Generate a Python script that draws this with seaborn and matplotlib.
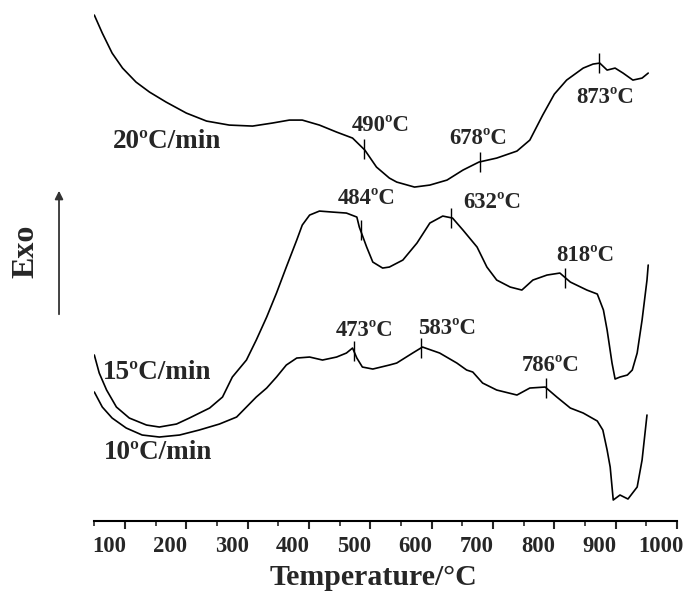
import numpy as np
import pandas as pd
import matplotlib.pyplot as plt
import matplotlib.transforms as mtransforms
import seaborn as sns

sns.set_style("white")
plt.rcParams['font.family'] = ['Liberation Serif', 'DejaVu Serif']
plt.rcParams['font.weight'] = 'bold'

# DTA curves, heat flow in arbitrary units (Exo up)
temp_20 = [50, 63, 79, 96, 118, 140, 167, 200, 233, 270, 308, 340, 368, 389, 417, 445,
           471, 491, 510, 531, 543, 572, 597, 625, 651, 677, 706, 739, 760, 781, 800,
           820, 847, 863, 874, 886, 899, 912, 928, 943, 953]
dta_20 = [506, 488, 468, 453, 439, 429, 419, 408, 400, 396, 395, 398, 401, 401, 396, 389,
          383, 371, 354, 343, 339, 334, 336, 341, 351, 359, 363, 370, 381, 406, 427,
          441, 453, 457, 458, 451, 453, 448, 441, 443, 448]

temp_15 = [50, 58, 70, 86, 107, 135, 156, 184, 205, 238, 259, 275, 298, 314, 331, 347,
           363, 380, 389, 401, 417, 438, 461, 478, 482, 494, 504, 520, 531, 553, 576, 597,
           618, 634, 651, 674, 690, 706, 728, 747, 765, 788, 809, 826, 853, 870, 880, 886,
           894, 899, 907, 919, 927, 935, 943, 951, 953]
dta_15 = [166, 148, 131, 114, 103, 96, 94, 97, 103, 113, 124, 144, 161, 181, 204, 228,
          254, 281, 296, 306, 310, 309, 308, 304, 294, 274, 259, 253, 254, 261, 278, 298,
          305, 303, 291, 274, 254, 241, 234, 231, 241, 246, 248, 239, 231, 227, 211, 191,
          158, 142, 144, 146, 151, 168, 201, 241, 256]

temp_10 = [50, 63, 79, 102, 128, 156, 189, 221, 254, 282, 298, 314, 331, 347, 363, 380,
           401, 422, 445, 461, 471, 478, 487, 504, 531, 543, 569, 585, 613, 641, 657, 667,
           683, 706, 739, 760, 785, 804, 826, 847, 870, 879, 886, 891, 896, 907, 920, 935,
           943, 951]
dta_10 = [129, 114, 103, 93, 86, 84, 86, 91, 97, 104, 114, 124, 133, 144, 156, 163,
          164, 161, 164, 168, 173, 163, 154, 152, 156, 158, 168, 174, 168, 158, 151, 149,
          138, 131, 126, 133, 134, 124, 113, 108, 100, 91, 71, 54, 21, 26, 22, 34,
          61, 106]

peaks_20 = [490, 678, 873]
peaks_15 = [484, 632, 818]
peaks_10 = [473, 583, 786]

rate_labels = ['20ºC/min', '15ºC/min', '10ºC/min']
x_ticks = [100, 200, 300, 400, 500, 600, 700, 800, 900, 1000]

frames = []
for lab, t, d in zip(rate_labels, [temp_20, temp_15, temp_10], [dta_20, dta_15, dta_10]):
    frames.append(pd.DataFrame({'T': t, 'DTA': d, 'rate': lab}))
df = pd.concat(frames, ignore_index=True)

fig = plt.figure(figsize=(6.91, 5.93), dpi=100)
ax = fig.add_axes([0.1365, 0.1214, 0.8433, 0.870])

sns.lineplot(data=df, x='T', y='DTA', units='rate', estimator=None, color='black',
             lw=1.2, ax=ax, legend=False)

# peak markers
for lab, pk in zip(rate_labels, [peaks_20, peaks_15, peaks_10]):
    sub = df[df['rate'] == lab]
    h = np.interp(pk, sub['T'], sub['DTA'])
    ax.vlines(pk, h - 10, h + 10, color='black', lw=1.0)

# annotations
lab_fs = 16.4
ax.text(169, 380, rate_labels[0], fontsize=19.5, ha='center', va='center')
ax.text(153, 149, rate_labels[1], fontsize=19.5, ha='center', va='center')
ax.text(154, 69, rate_labels[2], fontsize=19.5, ha='center', va='center')
for (x, y), pk in zip([(517, 396), (675, 383), (883, 424)], peaks_20):
    ax.text(x, y, f'{pk}ºC', fontsize=lab_fs, ha='center', va='center')
for (x, y), pk in zip([(494, 323), (698, 319), (850, 266)], peaks_15):
    ax.text(x, y, f'{pk}ºC', fontsize=lab_fs, ha='center', va='center')
for (x, y), pk in zip([(491, 191), (625, 193), (794, 156)], peaks_10):
    ax.text(x, y, f'{pk}ºC', fontsize=lab_fs, ha='center', va='center')

ax.set_xlim(50, 1000)
ax.set_ylim(0, 516)
ax.set_xticks(x_ticks)
ax.set_xticks(np.arange(50, 1001, 50), minor=True)
ax.set_yticks([])
ax.set_xlabel('Temperature/°C', fontsize=21.5, fontweight='bold')
ax.xaxis.set_label_coords(0.479, -0.083)
ax.set_ylabel('')
for s in ['left', 'right', 'top']:
    ax.spines[s].set_visible(False)
ax.spines['bottom'].set_linewidth(1.5)
ax.spines['bottom'].set_color('black')
ax.tick_params(axis='x', which='major', direction='out', length=6, width=1.5,
               labelsize=16.3, pad=5, bottom=True)
ax.tick_params(axis='x', which='minor', direction='out', length=3.5, width=1.2, bottom=True)

offset = mtransforms.ScaledTranslation(-0.16, 0, fig.dpi_scale_trans)
for lbl in ax.get_xticklabels():
    lbl.set_transform(lbl.get_transform() + offset)
    lbl.set_fontweight('bold')

# Exo arrow
ax.annotate('', xy=(0.0854, 0.683), xytext=(0.0854, 0.4654), xycoords='figure fraction',
            textcoords='figure fraction',
            arrowprops=dict(arrowstyle='-|>', color='#333333', lw=1.3, mutation_scale=12))
fig.text(0.0376, 0.577, 'Exo', rotation=90, fontsize=23, fontweight='bold',
         ha='center', va='center')

fig.savefig('out.png', dpi=100)
